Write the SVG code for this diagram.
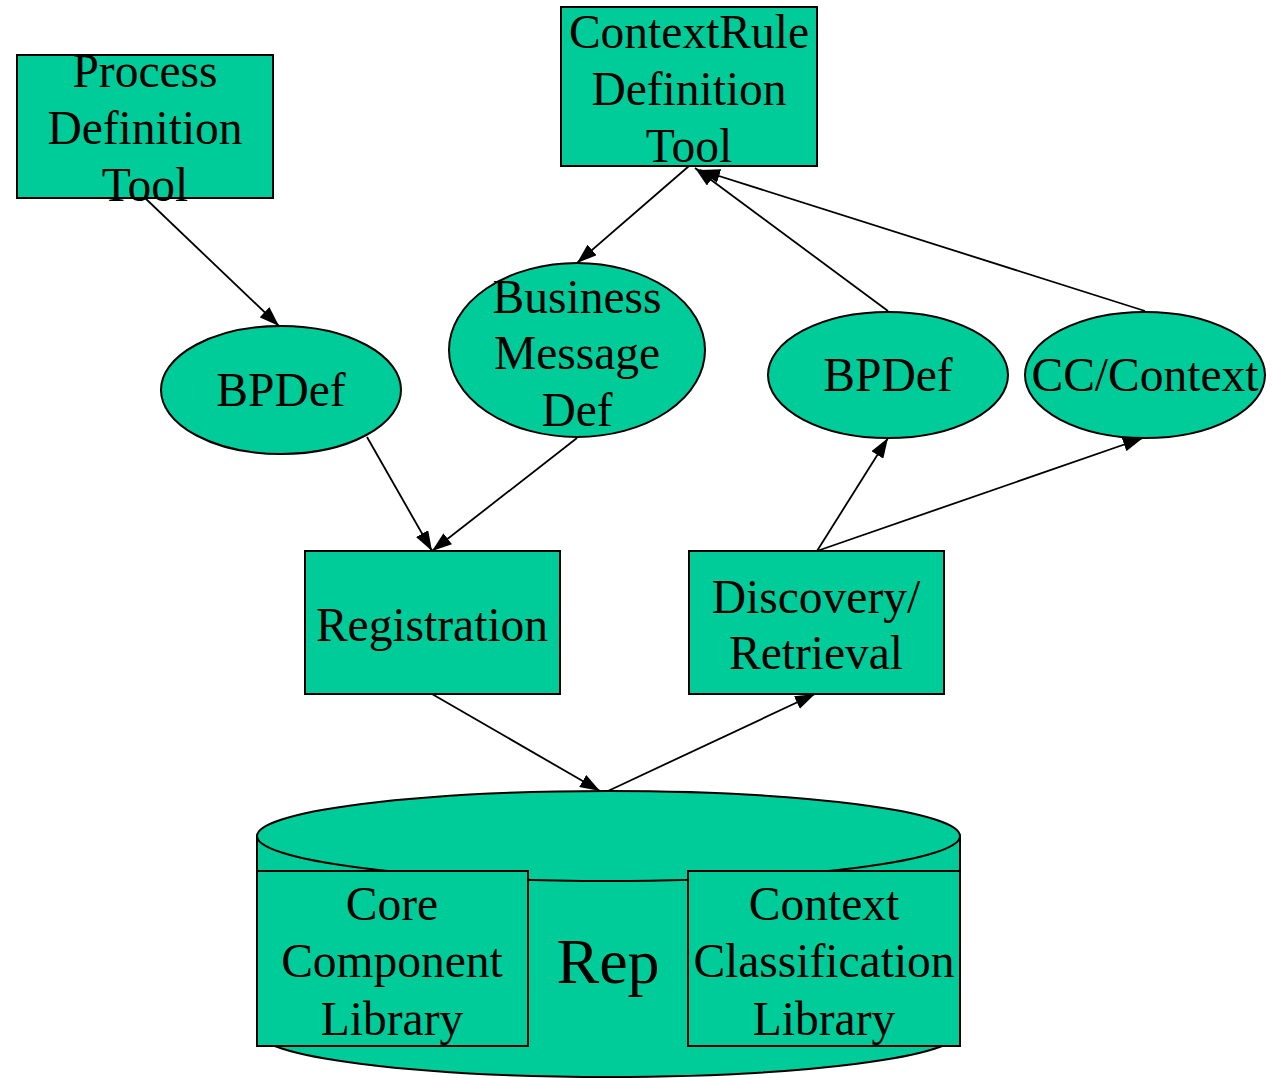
<svg xmlns="http://www.w3.org/2000/svg" width="1274" height="1078" viewBox="0 0 1274 1078">
<defs>
<marker id="ah" viewBox="0 0 20 14" refX="20" refY="7" markerWidth="20" markerHeight="14" markerUnits="userSpaceOnUse" orient="auto">
<path d="M0,0 L20,7 L0,14 Z" fill="#000"/>
</marker>
<style>
.n{fill:#00CC99;stroke:#000;stroke-width:2}
.t{font-family:"Liberation Serif","Times New Roman",serif;font-size:47.5px;fill:#000;text-anchor:middle}
.e{stroke:#000;stroke-width:1.8;fill:none;marker-end:url(#ah)}
</style>
</defs>
<rect width="1274" height="1078" fill="#fff"/>
<g id="connectors">
<line class="e" x1="145" y1="198" x2="279" y2="326"/>
<line class="e" x1="689" y1="166" x2="577" y2="263"/>
<line class="e" x1="367" y1="437" x2="432" y2="551"/>
<line class="e" x1="577" y1="438" x2="432" y2="551"/>
<line class="e" x1="888" y1="311" x2="695" y2="168"/>
<line class="e" x1="1145" y1="311" x2="700" y2="170"/>
<line class="e" x1="817" y1="551" x2="888" y2="438"/>
<line class="e" x1="817" y1="551" x2="1143" y2="438"/>
<line class="e" x1="432" y1="694" x2="600" y2="791"/>
<line class="e" x1="608" y1="791" x2="815" y2="694"/>
</g>
<g id="pdt">
<rect class="n" x="17" y="55" width="256" height="143"/>
<text class="t" x="145" y="87">Process</text>
<text class="t" x="145" y="144">Definition</text>
<text class="t" x="145" y="201">Tool</text>
</g>
<g id="crdt">
<rect class="n" x="561" y="7" width="256" height="159"/>
<text class="t" x="689" y="48">ContextRule</text>
<text class="t" x="689" y="105">Definition</text>
<text class="t" x="689" y="162">Tool</text>
</g>
<g id="bpdef1">
<ellipse class="n" cx="281" cy="390" rx="120" ry="64"/>
<text class="t" x="281" y="406">BPDef</text>
</g>
<g id="bmd">
<ellipse class="n" cx="577" cy="350" rx="128" ry="87"/>
<text class="t" x="577" y="313">Business</text>
<text class="t" x="577" y="369">Message</text>
<text class="t" x="577" y="426">Def</text>
</g>
<g id="bpdef2">
<ellipse class="n" cx="888" cy="375" rx="120" ry="63"/>
<text class="t" x="888" y="391">BPDef</text>
</g>
<g id="cccontext">
<ellipse class="n" cx="1145" cy="375" rx="120" ry="63"/>
<text class="t" x="1145" y="391">CC/Context</text>
</g>
<g id="registration">
<rect class="n" x="305" y="551" width="255" height="143"/>
<text class="t" x="432" y="641">Registration</text>
</g>
<g id="discovery">
<rect class="n" x="689" y="551" width="255" height="143"/>
<text class="t" x="816" y="613">Discovery/</text>
<text class="t" x="816" y="669">Retrieval</text>
</g>
<g id="rep">
<path class="n" d="M257,836 A351.5,45 0 0,1 960,836 L960,1032 A351.5,45 0 0,1 257,1032 Z"/>
<path d="M257,836 A351.5,45 0 0,0 960,836" fill="none" stroke="#000" stroke-width="2"/>
<text class="t" x="608" y="983" style="font-size:64px">Rep</text>
<rect class="n" x="257" y="871" width="271" height="175"/>
<text class="t" x="392" y="920">Core</text>
<text class="t" x="392" y="977">Component</text>
<text class="t" x="392" y="1035">Library</text>
<rect class="n" x="688" y="871" width="272" height="175"/>
<text class="t" x="824" y="920">Context</text>
<text class="t" x="824" y="977">Classification</text>
<text class="t" x="824" y="1035">Library</text>
</g>
</svg>
